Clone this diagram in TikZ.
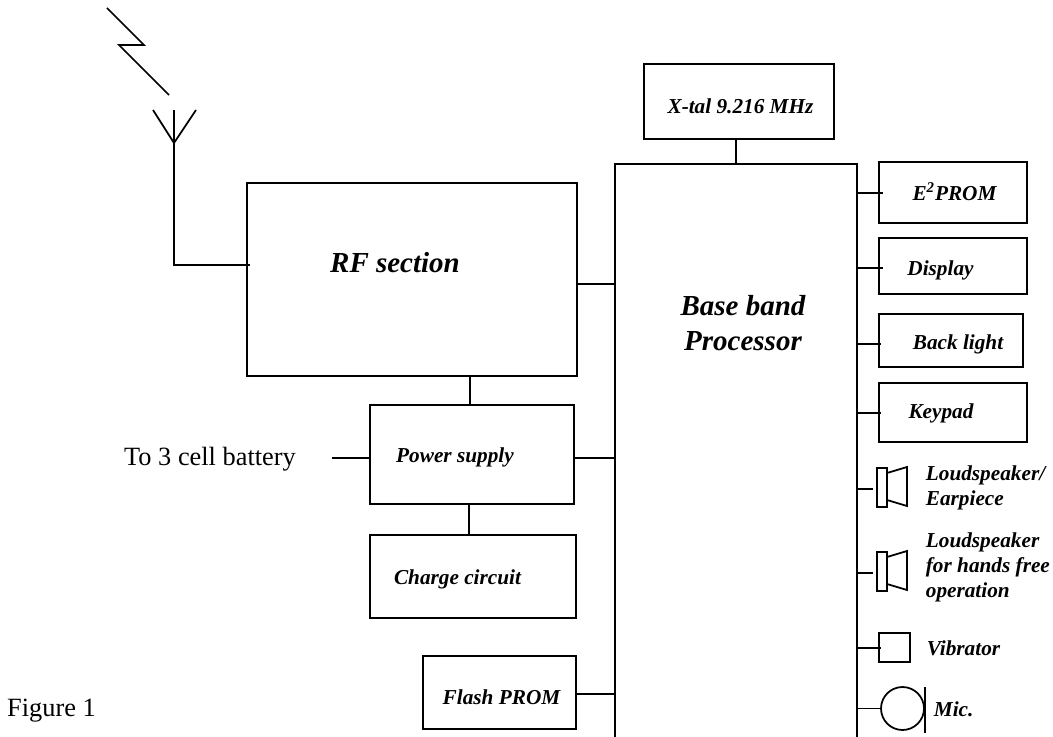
\documentclass[tikz,border=0pt]{standalone}
\usepackage{fontspec}
\setmainfont{Liberation Serif}
\usetikzlibrary{positioning,calc}
\tikzset{
  blk/.style={draw,line width=1pt,inner sep=0pt},
  lbl/.style={inner sep=0pt,font=\bfseries\itshape\fontsize{12.1}{14.2}\selectfont,align=left},
  big/.style={inner sep=0pt,font=\bfseries\itshape\fontsize{16.5}{20}\selectfont,align=center},
  plain/.style={inner sep=0pt,font=\fontsize{15}{18}\selectfont},
}
\begin{document}
\begin{tikzpicture}[x=0.02cm,y=-0.02cm,line width=1pt]
\useasboundingbox (0,0) rectangle (1053,736);
% boxes
\node[blk,minimum width=6.6cm,minimum height=3.86cm] (rf) at (412,279.5) {};
\node[blk,minimum width=4.84cm,minimum height=11.6cm] (base) at (736,454) {};
\node[blk,minimum width=3.8cm,minimum height=1.5cm] (xtal) at (739,101.5) {};
\node[blk,minimum width=4.08cm,minimum height=1.98cm] (power) at (472,454.5) {};
\node[blk,minimum width=4.12cm,minimum height=1.66cm] (charge) at (473,576.5) {};
\node[blk,minimum width=3.06cm,minimum height=1.46cm] (flash) at (499.5,692.5) {};
\node[blk,minimum width=2.96cm,minimum height=1.22cm] (eprom) at (953,192.5) {};
\node[blk,minimum width=2.96cm,minimum height=1.12cm] (disp) at (953,266) {};
\node[blk,minimum width=2.88cm,minimum height=1.06cm] (light) at (951,340.5) {};
\node[blk,minimum width=2.96cm,minimum height=1.18cm] (keys) at (953,412.5) {};
\node[blk,minimum width=0.62cm,minimum height=0.58cm] (vib) at (894.5,647.5) {};
\node[blk,circle,minimum size=0.86cm] (mic) at (902.5,708.5) {};
\node[blk,minimum width=0.2cm,minimum height=0.78cm] (spka) at (882,487.5) {};
\node[blk,minimum width=0.2cm,minimum height=0.78cm] (spkb) at (882,571.5) {};
% labels
\node[big] (rftxt) at (395,263) {RF section};
\node[big] (basetxt) at (743,323) {Base band\\Processor};
\node[lbl] (xtaltxt) at (740.5,106) {X-tal 9.216 MHz};
\node[lbl] (powertxt) at (455,457.5) {Power supply};
\node[lbl] (chargetxt) at (457.5,579.5) {Charge circuit};
\node[lbl] (flashtxt) at (501.5,697) {Flash PROM};
\node[lbl] (epromtxt) at (954.5,192) {E\textsuperscript{2}PROM};
\node[lbl] (disptxt) at (940.5,270) {Display};
\node[lbl] (lighttxt) at (958,344) {Back light};
\node[lbl] (keystxt) at (941,413) {Keypad};
\node[lbl,right] (spkatxt) at (925,487.5) {Loudspeaker/\\Earpiece};
\node[lbl,right] (spkbtxt) at (925,567) {Loudspeaker\\for hands free\\operation};
\node[lbl,right] (vibtxt) at (926,648) {Vibrator};
\node[lbl,right] (mictxt) at (933,709) {Mic.};
\node[plain] (batt) at (210,459.5) {To 3 cell battery};
\node[plain] (figtxt) at (51.5,711) {Figure 1};
% connectors on the left of the processor
\draw (base.north) -- (base.north |- xtal.south);
\coordinate (rfbus) at (577,284);
\coordinate (pwrbus) at (574,458);
\coordinate (flbus) at (576,694);
\coordinate (battend) at (332,458);
\coordinate (rfpwr) at (470,376);
\coordinate (pwrchg) at (469,504);
\draw (rfbus) -- (base.west |- rfbus);
\draw (pwrbus) -- (base.west |- pwrbus);
\draw (flbus) -- (base.west |- flbus);
\draw (battend) -- (power.west |- battend);
\draw (rfpwr) -- (power.north -| rfpwr);
\draw (pwrchg) -- (charge.north -| pwrchg);
% antenna
\coordinate (ant) at (174,143);
\coordinate (anttop) at (174,110);
\coordinate (antfoot) at (174,265);
\coordinate (antend) at (250,265);
\draw (anttop) -- (antfoot) -- (antend);
\draw (153,110) -- (ant) -- (196,110);
\draw (107,8) -- (144,45) -- (119,45) -- (169,95);
% stubs on the right
\coordinate (epromend) at (883,193);
\coordinate (dispend) at (883,268);
\coordinate (lightend) at (881,344);
\coordinate (keysend) at (881,413);
\coordinate (spkaend) at (873,489);
\coordinate (spkbend) at (873,573);
\coordinate (vibend) at (881,648);
\draw (base.east |- epromend) -- (epromend);
\draw (base.east |- dispend) -- (dispend);
\draw (base.east |- lightend) -- (lightend);
\draw (base.east |- keysend) -- (keysend);
\draw (base.east |- spkaend) -- (spkaend);
\draw (base.east |- spkbend) -- (spkbend);
\draw (base.east |- vibend) -- (vibend);
\draw (base.east |- mic.west) -- (mic.west);
% loudspeaker cones and mic bar
\draw (887,473) -- (907,467) -- (907,506) -- (887,500);
\draw (887,557) -- (907,551) -- (907,590) -- (887,584);
\draw (925,687) -- (925,733);
\end{tikzpicture}
\end{document}
